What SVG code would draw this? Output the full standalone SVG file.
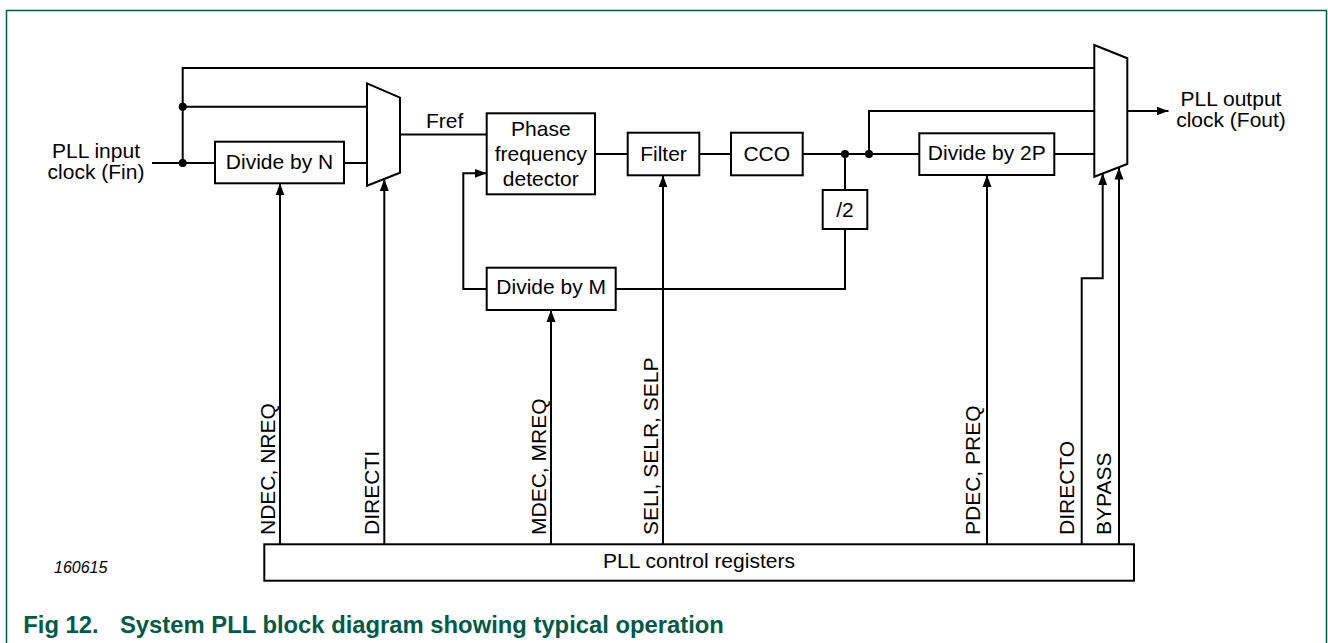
<svg xmlns="http://www.w3.org/2000/svg" width="1328" height="643" viewBox="0 0 1328 643">
<style>
  .box { fill: #fff; stroke: #000; stroke-width: 2; }
  .ln { fill: none; stroke: #000; stroke-width: 2; }
  .t { font-family: "Liberation Sans", Arial, sans-serif; font-size: 21px; fill: #000; }
  .c { text-anchor: middle; }
  .cap { font-family: "Liberation Sans", Arial, sans-serif; font-size: 23.8px; font-weight: bold; fill: #005a46; }
</style>
<defs>
  <marker id="arr" viewBox="0 0 12 10" refX="12" refY="5" markerWidth="12" markerHeight="10" markerUnits="userSpaceOnUse" orient="auto">
    <path d="M0,0.5 L12,5 L0,9.5 Z" fill="#000"/>
  </marker>
</defs>
<rect x="0" y="0" width="1328" height="643" fill="#fff"/>
<path d="M6.5,700 V10.5 H1326.5 V700" fill="none" stroke="#0b5345" stroke-width="1.5"/>

<g id="connectors">
  <path class="ln" d="M152,163 H215"/>
  <path class="ln" d="M182.7,163 V68 H1094.3"/>
  <path class="ln" d="M182.7,106.7 H367"/>
  <path class="ln" d="M344,163 H367"/>
  <path class="ln" d="M400,134.5 H486.7"/>
  <path class="ln" d="M595,154 H627.7"/>
  <path class="ln" d="M699.3,154 H731"/>
  <path class="ln" d="M802.7,154 H919.3"/>
  <path class="ln" d="M869,154 V111 H1094.3"/>
  <path class="ln" d="M1054.3,154 H1094.3"/>
  <path class="ln" d="M845,154 V190"/>
  <path class="ln" d="M845,229 V289 H615.7"/>
  <path class="ln" d="M486.7,289 H463.3 V173.3 H486.7" marker-end="url(#arr)"/>
  <path class="ln" d="M1127.3,111 H1168.5" marker-end="url(#arr)"/>
  <path class="ln" d="M280,544.3 V183.3" marker-end="url(#arr)"/>
  <path class="ln" d="M384.3,544.3 V179" marker-end="url(#arr)"/>
  <path class="ln" d="M551,544.3 V310" marker-end="url(#arr)"/>
  <path class="ln" d="M663,544.3 V175.3" marker-end="url(#arr)"/>
  <path class="ln" d="M987,544.3 V175" marker-end="url(#arr)"/>
  <path class="ln" d="M1081.7,544.3 V278.3 H1102.7 V173.2" marker-end="url(#arr)"/>
  <path class="ln" d="M1119,544.3 V167.5" marker-end="url(#arr)"/>
  <circle cx="182.7" cy="106.7" r="4" fill="#000"/>
  <circle cx="182.7" cy="163" r="4" fill="#000"/>
  <circle cx="845" cy="154" r="4" fill="#000"/>
  <circle cx="869" cy="154" r="4" fill="#000"/>
</g>

<g id="input-label">
  <text class="t c" x="96" y="158">PLL input</text>
  <text class="t c" x="96" y="179">clock (Fin)</text>
</g>
<g id="divide-n">
  <rect class="box" x="215" y="141.7" width="129" height="41.6"/>
  <text class="t c" x="279.5" y="169.3">Divide by N</text>
</g>
<g id="mux-in">
  <polygon class="box" points="367,83.3 400,97.7 400,172.7 367,185.7"/>
</g>
<g id="fref-label">
  <text class="t" x="426" y="128.3">Fref</text>
</g>
<g id="pfd">
  <rect class="box" x="486.7" y="113.3" width="108.3" height="81"/>
  <text class="t c" x="540.8" y="135.5">Phase</text>
  <text class="t c" x="540.8" y="160.5">frequency</text>
  <text class="t c" x="540.8" y="185.5">detector</text>
</g>
<g id="filter">
  <rect class="box" x="627.7" y="132.7" width="71.6" height="42.6"/>
  <text class="t c" x="663.5" y="161">Filter</text>
</g>
<g id="cco">
  <rect class="box" x="731" y="132.7" width="71.7" height="42.6"/>
  <text class="t c" x="766.8" y="161">CCO</text>
</g>
<g id="div2">
  <rect class="box" x="822.7" y="190" width="44.6" height="39"/>
  <text class="t c" x="845" y="216.7">/2</text>
</g>
<g id="divide-m">
  <rect class="box" x="486.7" y="267.7" width="129" height="42.3"/>
  <text class="t c" x="551.2" y="294.3">Divide by M</text>
</g>
<g id="divide-2p">
  <rect class="box" x="919.3" y="133.3" width="135" height="41.7"/>
  <text class="t c" x="986.8" y="160">Divide by 2P</text>
</g>
<g id="mux-out">
  <polygon class="box" points="1094.3,45 1127.3,58.3 1127.3,164 1094.3,176.7"/>
</g>
<g id="output-label">
  <text class="t c" x="1231" y="106">PLL output</text>
  <text class="t c" x="1231" y="126.7">clock (Fout)</text>
</g>
<g id="registers">
  <rect class="box" x="264.3" y="544.3" width="869.7" height="36.4"/>
  <text class="t c" x="699" y="568.3">PLL control registers</text>
</g>
<g id="signal-labels">
  <text class="t" transform="translate(275,535) rotate(-90)">NDEC, NREQ</text>
  <text class="t" transform="translate(379,535) rotate(-90)">DIRECTI</text>
  <text class="t" transform="translate(546,535) rotate(-90)">MDEC, MREQ</text>
  <text class="t" transform="translate(658,535) rotate(-90)">SELI, SELR, SELP</text>
  <text class="t" transform="translate(980,535) rotate(-90)">PDEC, PREQ</text>
  <text class="t" transform="translate(1074,535) rotate(-90)">DIRECTO</text>
  <text class="t" transform="translate(1111,535) rotate(-90)">BYPASS</text>
</g>
<g id="figure-id">
  <text x="54" y="572.7" font-family="Liberation Sans, Arial, sans-serif" font-size="16" font-style="italic" fill="#000">160615</text>
</g>
<g id="caption">
  <text class="cap" x="23.3" y="633">Fig 12.</text>
  <text class="cap" x="120" y="633">System PLL block diagram showing typical operation</text>
</g>
</svg>
